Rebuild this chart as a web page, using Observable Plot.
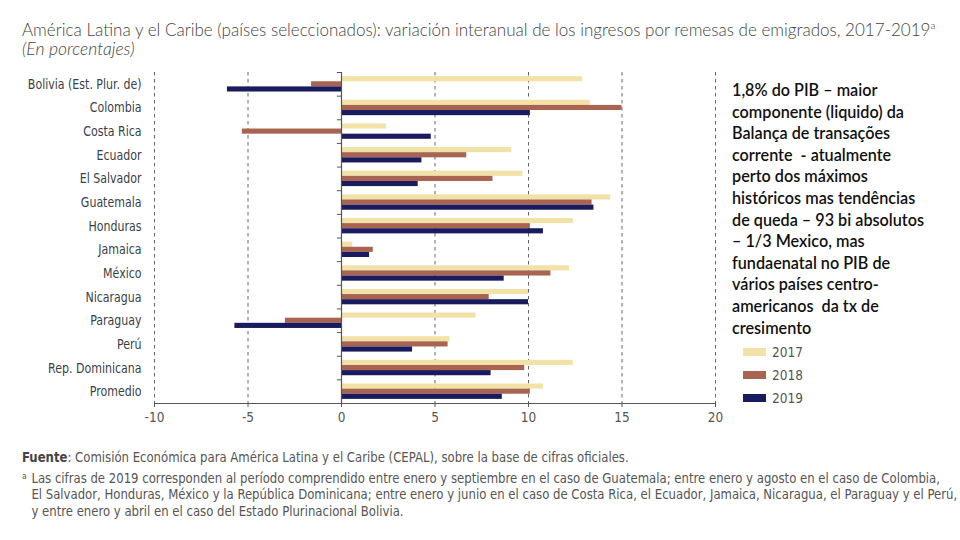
<!DOCTYPE html>
<html>
<head>
<meta charset="utf-8">
<script src="https://cdn.jsdelivr.net/npm/d3@7"></script>
<script src="https://cdn.jsdelivr.net/npm/@observablehq/plot@0.6"></script>
<style>
  html, body { margin: 0; padding: 0; background: #fff; }
  body { width: 960px; height: 540px; position: relative; overflow: hidden; }
  .abs { position: absolute; }
  #title { left: 22px; top: 19px; font-family: Lato, sans-serif; font-weight: 300; font-size: 17.05px; color: #444; white-space: nowrap; }
  #title sup { font-size: 10px; }
  #subtitle { left: 22px; top: 38px; font-family: Lato, sans-serif; font-weight: 300; font-style: italic; font-size: 17.5px; color: #444; }
  #chart { left: 0; top: 59px; line-height: 0; }
  #chart svg { display: block; }
  #note { left: 732px; top: 79px; width: 228px; font-family: Lato, sans-serif; font-weight: 600; font-size: 16.2px; line-height: 21.6px; color: #111; white-space: nowrap; }
  #legend { left: 743px; top: 340px; font-family: "DejaVu Sans Condensed", sans-serif; font-size: 13.5px; color: #555; }
  #legend .item { display: flex; align-items: center; height: 23px; }
  #legend .sw { width: 23px; height: 8px; margin-right: 6px; }
  #footer { left: 22px; top: 449px; font-family: "DejaVu Sans Condensed", sans-serif; font-size: 13.8px; line-height: 17px; color: #555; white-space: nowrap; transform-origin: 0 0; }
  #footer b { color: #444; }
  #footer .l2 { margin-top: 4px; }
  #footer .l3 { margin-top: -1px; }
  #footer .ind { padding-left: 10px; }
  #footer sup { font-size: 9px; display: inline-block; width: 10px; vertical-align: 4px; line-height: 0; }
</style>
</head>
<body>
<div id="title" class="abs">América Latina y el Caribe (países seleccionados): variación interanual de los ingresos por remesas de emigrados, 2017-2019<sup>a</sup></div>
<div id="subtitle" class="abs">(En porcentajes)</div>
<div id="chart" class="abs"></div>
<div id="note" class="abs">1,8% do PIB – maior<br>componente (liquido) da<br>Balança de transações<br>corrente &nbsp;- atualmente<br>perto dos máximos<br>históricos mas tendências<br>de queda – 93 bi absolutos<br>– 1/3 Mexico, mas<br>fundaenatal no PIB de<br>vários países centro-<br>americanos &nbsp;da tx de<br>cresimento</div>
<div id="legend" class="abs"></div>
<div id="footer" class="abs">
  <div><b>Fuente</b>: Comisión Económica para América Latina y el Caribe (CEPAL), sobre la base de cifras oficiales.</div>
  <div class="l2" id="longline"><sup>a</sup>Las cifras de 2019 corresponden al período comprendido entre enero y septiembre en el caso de Guatemala; entre enero y agosto en el caso de Colombia,</div>
  <div class="ind l3">El Salvador, Honduras, México y la República Dominicana; entre enero y junio en el caso de Costa Rica, el Ecuador, Jamaica, Nicaragua, el Paraguay y el Perú,</div>
  <div class="ind">y entre enero y abril en el caso del Estado Plurinacional Bolivia.</div>
</div>
<script>
const countries = ["Bolivia (Est. Plur. de)", "Colombia", "Costa Rica", "Ecuador", "El Salvador", "Guatemala", "Honduras", "Jamaica", "México", "Nicaragua", "Paraguay", "Perú", "Rep. Dominicana", "Promedio"];
const years = ["2017", "2018", "2019"];
const v2017 = [12.9, 13.3, 2.4, 9.1, 9.7, 14.4, 12.4, 0.6, 12.2, 10.0, 7.2, 5.8, 12.4, 10.8];
const v2018 = [-1.6, 15.0, -5.3, 6.7, 8.1, 13.4, 10.1, 1.7, 11.2, 7.9, -3.0, 5.7, 9.8, 10.1];
const v2019 = [-6.1, 10.1, 4.8, 4.3, 4.1, 13.5, 10.8, 1.5, 8.7, 10.0, -5.7, 3.8, 8.0, 8.6];
const xTicks = [-10, -5, 0, 5, 10, 15, 20];
const gridTicks = [-10, -5, 5, 10, 15, 20];
const colors = ["#F3E2A8", "#A86450", "#1A1A5E"];

const series = [v2017, v2018, v2019];
const data = countries.flatMap((c, j) => years.map((y, i) => ({country: c, year: y, value: series[i][j]})));

const W = 960, H = 370, mTop = 13, mBottom = 26;
const band = (H - mTop - mBottom) / countries.length;
const barH = band * 0.217;
const pad = (band - 3 * barH) / 2;

const font = '"DejaVu Sans Condensed", sans-serif';

const marks = [
  Plot.ruleX(gridTicks, {stroke: "#666", strokeWidth: 1, strokeDasharray: "3.5,3.5"}),
  ...years.map((yr, i) => Plot.barX(data.filter(d => d.year === yr), {
    y: "country", x: "value", fill: "year",
    insetTop: pad + i * barH,
    insetBottom: band - pad - (i + 1) * barH
  })),
  Plot.ruleX([0], {stroke: "#555", strokeWidth: 1.2}),
  Plot.ruleY(countries, {y: d => d, x1: -0.22, x2: 0, dy: -band / 2, stroke: "#555"}),
  Plot.ruleY([0], {y: () => countries[countries.length - 1], x1: -10, x2: 20, dy: band / 2, stroke: "#555", strokeWidth: 1.2})
];

const chart = Plot.plot({
  width: W, height: H,
  marginTop: mTop, marginBottom: mBottom, marginLeft: 154, marginRight: 245,
  style: {fontFamily: font, fontSize: "13.5px", color: "#333", background: "transparent"},
  x: {domain: [-10, 20], ticks: xTicks, tickFormat: d => String(d), label: null, tickSize: 4, tickPadding: 5},
  y: {domain: countries, padding: 0, round: false, label: null, tickSize: 0, tickPadding: 13},
  color: {domain: years, range: colors},
  marks
});
chart.querySelectorAll('g[aria-label="x-axis tick label"]').forEach(e => e.setAttribute("fill", "#555"));
chart.querySelectorAll('g[aria-label="x-axis tick"]').forEach(e => e.setAttribute("stroke", "#555"));
chart.querySelectorAll('g[aria-label="y-axis tick label"]').forEach(g => {
  g.setAttribute("fill", "#3a3f4a");
  g.setAttribute("font-size", "14px");
  g.querySelectorAll("text").forEach(t => {
    const tr = t.getAttribute("transform") || "";
    t.setAttribute("transform", tr + " scale(0.875,1)");
  });
});
document.getElementById("chart").appendChild(chart);

const legend = d3.select("#legend");
years.forEach((y, i) => {
  const it = legend.append("div").attr("class", "item");
  it.append("div").attr("class", "sw").style("background", colors[i]);
  it.append("span").text(y);
});

// condense footer to the reference's line width
const longLine = document.getElementById("longline");
const range = document.createRange();
range.selectNodeContents(longLine);
const natural = range.getBoundingClientRect().width;
const s = 918 / natural;
document.getElementById("footer").style.transform = `scaleX(${s})`;
</script>
</body>
</html>
